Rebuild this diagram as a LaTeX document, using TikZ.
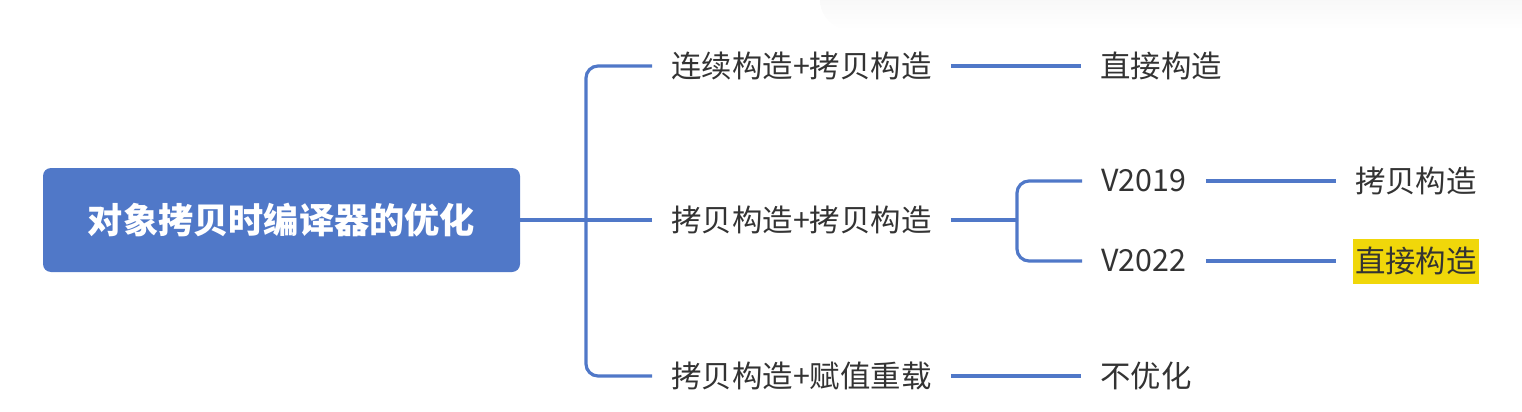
\documentclass[tikz,border=0pt]{standalone}
\usepackage{fontspec}
\setmainfont{Noto Sans CJK SC}
\usepackage{tikz}
\usetikzlibrary{positioning}
\definecolor{mapblue}{HTML}{5078C8}
\definecolor{inkx}{HTML}{333333}
\definecolor{marky}{HTML}{F0D70A}

\begin{document}
\begin{tikzpicture}[
      x=0.5pt, y=-0.5pt,
      node distance=0pt and 82pt,
      rootbox/.style={rectangle, rounded corners=4pt, fill=mapblue, text=white,
                      minimum width=238.5pt, minimum height=52pt,
                      font=\fontsize{17.6pt}{20pt}\selectfont\bfseries},
      topic/.style={inner xsep=1pt, inner ysep=0pt, minimum height=22.5pt,
                    text=inkx, font=\fontsize{15.2pt}{18pt}\selectfont},
      hl/.style={fill=marky},
      link/.style={draw=mapblue, line width=1.6pt,
                   shorten <=8.5pt, shorten >=8.5pt}
    ]
    \useasboundingbox (0,0) rectangle (1522,412);
    % window shadow at the top
    \begin{scope}
      \clip (0,0) rectangle (1522,412);
      \shade[top color=black!6, bottom color=white, rounded corners=15pt]
        (820,-40) rectangle (1560,30);
    \end{scope}
    \node[rootbox] (root) at (281.5,220) {对象拷贝时编译器的优化};
    \node[topic, anchor=west] (cc)  at (669,66)  {连续构造+拷贝构造};
    \node[topic, anchor=west] (cp)  at (669,220) {拷贝构造+拷贝构造};
    \node[topic, anchor=west] (ca)  at (669,376) {拷贝构造+赋值重载};
    \node[topic, right=of cc] (dir) {直接构造};
    \node[topic, anchor=west] (v19) at (1099,181) {V2019};
    \node[topic, anchor=west] (v22) at (1099,261) {V2022};
    \node[topic, right=of v19] (cpy) {拷贝构造};
    \node[topic, hl, right=of v22] (dir22) {直接构造};
    \node[topic, right=of ca] (noopt) {不优化};
    \coordinate (fork) at (586,220);
    \coordinate (forkv) at (1017,220);
    \draw[link, shorten <=0pt, shorten >=0pt] (root.east) -- (fork);
    \draw[link, shorten >=0pt, rounded corners=6pt] (cc.west) -| (fork);
    \draw[link, shorten >=0pt] (cp.west) -- (fork);
    \draw[link, shorten >=0pt, rounded corners=6pt] (ca.west) -| (fork);
    \draw[link] (cc) -- (dir);
    \draw[link, shorten >=0pt] (cp.east) -- (forkv);
    \draw[link, shorten >=0pt, rounded corners=6pt] (v19.west) -| (forkv);
    \draw[link, shorten >=0pt, rounded corners=6pt] (v22.west) -| (forkv);
    \draw[link] (v19) -- (cpy);
    \draw[link] (v22) -- (dir22);
    \draw[link] (ca) -- (noopt);
  \end{tikzpicture}
\end{document}
